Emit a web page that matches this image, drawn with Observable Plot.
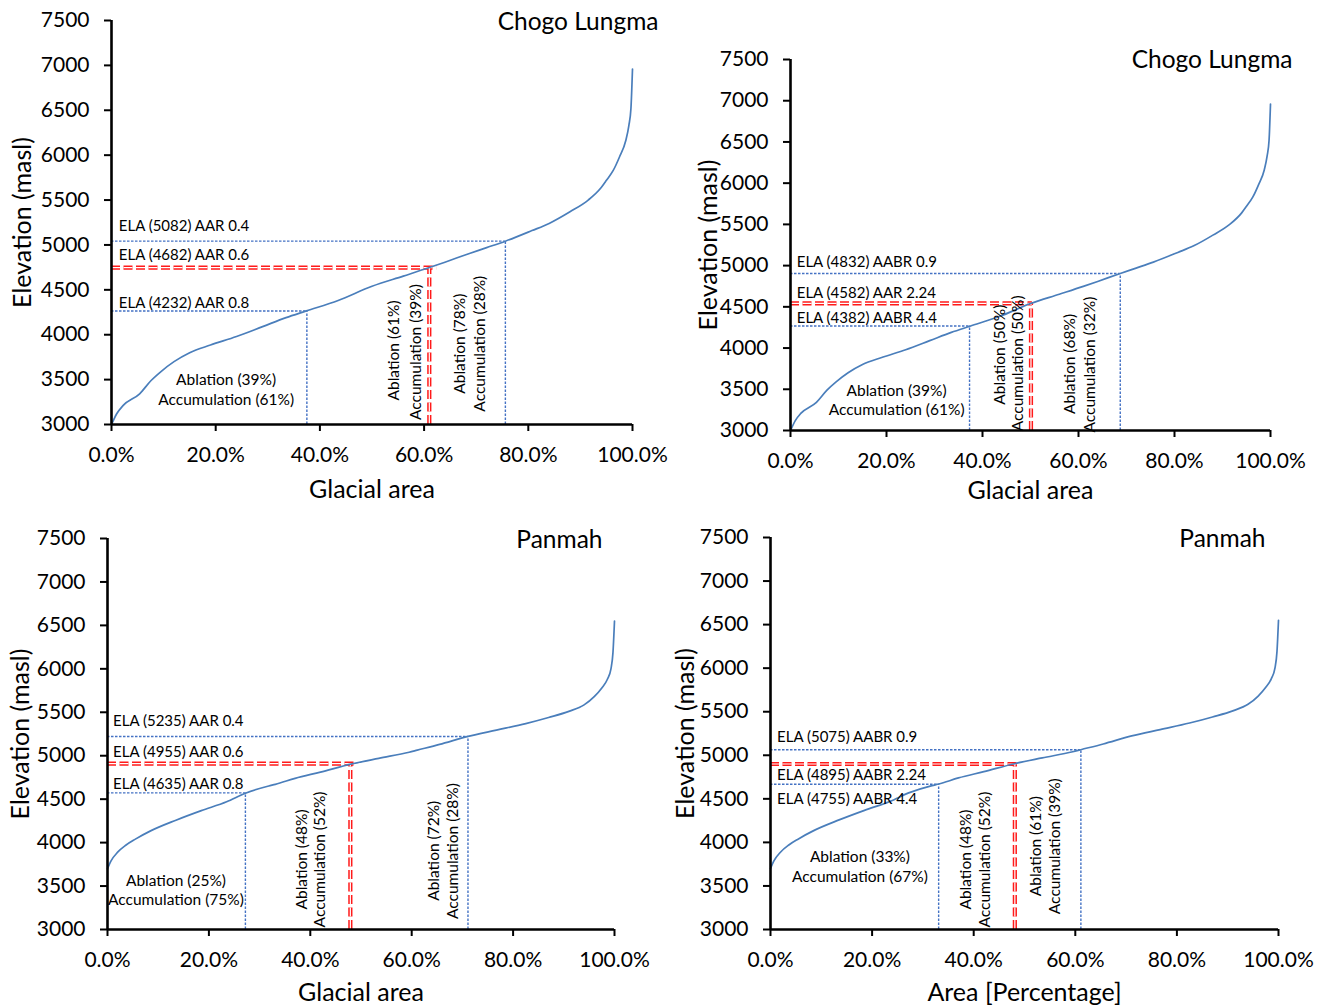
<!DOCTYPE html>
<html>
<head>
<meta charset="utf-8">
<script src="https://cdn.jsdelivr.net/npm/d3@7"></script>
<script src="https://cdn.jsdelivr.net/npm/@observablehq/plot@0.6"></script>
<style>
  html, body { margin: 0; padding: 0; background: white; }
  #wrap { position: relative; width: 1325px; height: 1007px; overflow: hidden; background: white; }
  #wrap > svg { position: absolute; }
</style>
</head>
<body>
<div id="wrap"></div>
<script>
// ---------- DATA ----------
const yTicks = [3000, 3500, 4000, 4500, 5000, 5500, 6000, 6500, 7000, 7500];
const xTicks = [0, 20, 40, 60, 80, 100];

// Hypsometric curve, Chogo Lungma (cumulative glacial area %, elevation m)
const chogoArea = [0, 1, 2.2, 5.4, 7.6, 9.5, 12, 15, 19, 24, 29, 33.5, 37.4, 43.5, 50, 56, 61, 64, 68.7, 72, 75.6, 80.7, 84, 88, 91.5, 94, 95, 96.3, 97.5, 98.7, 99.3, 99.7, 100];
const chogoElev = [3000, 3120, 3210, 3342, 3490, 3590, 3700, 3800, 3885, 3980, 4090, 4190, 4265, 4382, 4540, 4653, 4748, 4808, 4905, 4970, 5042, 5160, 5240, 5370, 5500, 5640, 5720, 5830, 5980, 6160, 6330, 6520, 6960];

// Hypsometric curve, Panmah
const panmahArea = [0, 0.7, 2, 3.6, 5.5, 8.5, 13.5, 18.5, 23.5, 27.2, 31.8, 33.1, 37, 42, 48, 53.5, 59.5, 61.1, 65.5, 71.1, 76.7, 82.5, 87, 91, 94, 96, 97.5, 98.6, 99.3, 99.7, 100];
const panmahElev = [3700, 3790, 3890, 3970, 4040, 4135, 4258, 4368, 4470, 4568, 4652, 4670, 4740, 4812, 4903, 4970, 5040, 5064, 5130, 5222, 5295, 5370, 5440, 5510, 5585, 5680, 5780, 5880, 6000, 6190, 6550];

// ELA guide lines (blue dotted: area %, elevation), red = preferred ELA
const p1BlueArea = [75.6, 37.5], p1BlueElev = [5042, 4265];
const p1RedArea = 61.0, p1RedElev = 4748, p1RedEnd = 62.4;
const p2BlueArea = [68.7, 37.3], p2BlueElev = [4905, 4267];
const p2RedArea = 50.1, p2RedElev = 4542, p2RedEnd = 50.4;
const p3BlueArea = [71.1, 27.2], p3BlueElev = [5222, 4572];
const p3RedArea = 47.9, p3RedElev = 4909, p3RedEnd = 48.9;
const p4BlueArea = [61.1, 33.1], p4BlueElev = [5064, 4668];
const p4RedArea = 48.1, p4RedElev = 4900, p4RedEnd = 49.2;

// ELA labels (text, anchor elevation)
const p1ElaText = ["ELA (5082) AAR 0.4", "ELA (4682) AAR 0.6", "ELA (4232) AAR 0.8"];
const p1ElaY = [5209, 4885, 4354];
const p2ElaText = ["ELA (4832) AABR 0.9", "ELA (4582) AAR 2.24", "ELA (4382) AABR 4.4"];
const p2ElaY = [5038, 4667, 4360];
const p3ElaText = ["ELA (5235) AAR 0.4", "ELA (4955) AAR 0.6", "ELA (4635) AAR 0.8"];
const p3ElaY = [5400, 5035, 4667];
const p4ElaText = ["ELA (5075) AABR 0.9", "ELA (4895) AABR 2.24", "ELA (4755) AABR 4.4"];
const p4ElaY = [5209, 4770, 4491];

// Zone labels: horizontal pair (x, y1, y2) and rotated labels (text, x, y)
const p1Zone = {text: ["Ablation (39%)", "Accumulation (61%)"], x: 22, y: [3490, 3268]};
const p1Rot = {text: ["Ablation (61%)", "Accumulation (39%)", "Ablation (78%)", "Accumulation (28%)"], x: [54.3, 58.4, 66.9, 70.7], y: [3825, 3807, 3900, 3900]};
const p2Zone = {text: ["Ablation (39%)", "Accumulation (61%)"], x: 22.1, y: [3484, 3254]};
const p2Rot = {text: ["Ablation (50%)", "Accumulation (50%)", "Ablation (68%)", "Accumulation (32%)"], x: [43.7, 47.5, 58.3, 62.3], y: [3920, 3815, 3807, 3799]};
const p3Zone = {text: ["Ablation (25%)", "Accumulation (75%)"], x: 13.5, y: [3557, 3334]};
const p3Rot = {text: ["Ablation (48%)", "Accumulation (52%)", "Ablation (72%)", "Accumulation (28%)"], x: [38.3, 42, 64.5, 68.2], y: [3806, 3806, 3906, 3902]};
const p4Zone = {text: ["Ablation (33%)", "Accumulation (67%)"], x: 17.6, y: [3830, 3604]};
const p4Rot = {text: ["Ablation (48%)", "Accumulation (52%)", "Ablation (61%)", "Accumulation (39%)"], x: [38.5, 42.3, 52.3, 56.1], y: [3803, 3803, 3956, 3956]};

// ---------- DRAWING ----------
const FONT = "Lato, 'Open Sans', 'DejaVu Sans', sans-serif";
const CURVE = "#4a7ebb", GUIDE = "#4472c4", RED = "#ff1a1a";

function panel(cfg) {
  const curve = cfg.area.map((a, i) => ({a, e: cfg.elev[i]}));
  const blue = cfg.blueArea.map((a, i) => ({a, e: cfg.blueElev[i]}));
  const red = [{a: cfg.redArea, e: cfg.redElev, end: cfg.redEnd}];
  const ela = cfg.elaText.map((t, i) => ({t, y: cfg.elaY[i]}));
  const zone = cfg.zone.text.map((t, i) => ({t, x: cfg.zone.x, y: cfg.zone.y[i]}));
  const rot = cfg.rot.text.map((t, i) => ({t, x: cfg.rot.x[i], y: cfg.rot.y[i]}));
  const redDash = "9,3.5";
  const svg = Plot.plot({
    width: cfg.width, height: cfg.height,
    marginLeft: cfg.ml, marginRight: cfg.mr, marginTop: cfg.mt, marginBottom: cfg.mb,
    style: {fontFamily: FONT, background: "transparent", color: "black", overflow: "visible"},
    x: {domain: [0, 100]},
    y: {domain: [3000, 7500]},
    marks: [
      // guide lines
      Plot.ruleY(blue, {y: "e", x1: () => 0, x2: "a", stroke: GUIDE, strokeWidth: 1.4, strokeDasharray: "2.5,1.5"}),
      Plot.ruleX(blue, {x: "a", y1: () => 3000, y2: "e", stroke: GUIDE, strokeWidth: 1.4, strokeDasharray: "2.5,1.5"}),
      Plot.ruleY(red, {y: "e", x1: () => 0, x2: "end", stroke: RED, strokeWidth: 4.2, strokeDasharray: redDash}),
      Plot.ruleX(red, {x: "a", y1: () => 3000, y2: "e", stroke: RED, strokeWidth: 4.2, strokeDasharray: redDash}),
      Plot.ruleY(red, {y: "e", x1: () => 0, x2: "end", stroke: "white", strokeWidth: 1.2, strokeDasharray: redDash}),
      Plot.ruleX(red, {x: "a", y1: () => 3000, y2: "e", stroke: "white", strokeWidth: 1.2, strokeDasharray: redDash}),
      // hypsometric curve
      Plot.line(curve, {x: "a", y: "e", stroke: CURVE, strokeWidth: 1.7, curve: "monotone-x"}),
      // axes
      Plot.ruleX([0], {stroke: "black", strokeWidth: 2.6}),
      Plot.ruleY([3000], {stroke: "black", strokeWidth: 2.6}),
      Plot.axisY({ticks: yTicks, tickSize: 7, tickPadding: 15, fontSize: 21, strokeWidth: 2, label: null, tickFormat: d => String(d)}),
      Plot.axisX({ticks: xTicks, tickSize: 7, tickPadding: 16, fontSize: 21, strokeWidth: 2, label: null, tickFormat: d => d.toFixed(1) + "%"}),
      // annotations
      Plot.text(ela, {x: () => cfg.elaX, y: "y", text: "t", textAnchor: "start", fontSize: 15, fill: "#000"}),
      Plot.text(zone, {x: "x", y: "y", text: "t", textAnchor: "middle", fontSize: 15.5, fill: "#000"}),
      Plot.text(rot, {x: "x", y: "y", text: "t", rotate: -90, textAnchor: "middle", fontSize: 15.5, fill: "#000"}),
      // titles / axis labels
      Plot.text([cfg.title], {frameAnchor: "top-right", text: d => d, textAnchor: "end", lineAnchor: "middle", dx: cfg.tdx, dy: cfg.tdy, fontSize: 24.5, fill: "black"}),
      Plot.text([cfg.xLabel], {frameAnchor: "bottom", text: d => d, lineAnchor: "middle", dy: cfg.xldy, fontSize: 25, fill: "black"}),
      Plot.text(["Elevation (masl)"], {frameAnchor: "left", text: d => d, rotate: -90, lineAnchor: "middle", textAnchor: "middle", dx: cfg.yldx, fontSize: 25, fill: "black"})
    ]
  });
  svg.style.left = cfg.left + "px";
  svg.style.top = cfg.top + "px";
  return svg;
}

const wrap = document.getElementById("wrap");
wrap.appendChild(panel({
  left: 0, top: 0, width: 660, height: 505, ml: 111, mr: 28, mt: 20, mb: 81,
  area: chogoArea, elev: chogoElev,
  blueArea: p1BlueArea, blueElev: p1BlueElev, redArea: p1RedArea, redElev: p1RedElev, redEnd: p1RedEnd,
  elaText: p1ElaText, elaY: p1ElaY, elaX: 1.4, zone: p1Zone, rot: p1Rot,
  title: "Chogo Lungma", tdx: 26, tdy: 2, xLabel: "Glacial area", xldy: 65, yldx: -89
}));
wrap.appendChild(panel({
  left: 660, top: 0, width: 665, height: 505, ml: 130, mr: 55, mt: 59, mb: 75,
  area: chogoArea, elev: chogoElev,
  blueArea: p2BlueArea, blueElev: p2BlueElev, redArea: p2RedArea, redElev: p2RedElev, redEnd: p2RedEnd,
  elaText: p2ElaText, elaY: p2ElaY, elaX: 1.3, zone: p2Zone, rot: p2Rot,
  title: "Chogo Lungma", tdx: 22, tdy: 1, xLabel: "Glacial area", xldy: 60, yldx: -82
}));
wrap.appendChild(panel({
  left: 0, top: 505, width: 660, height: 502, ml: 107, mr: 46, mt: 33, mb: 78,
  area: panmahArea, elev: panmahElev,
  blueArea: p3BlueArea, blueElev: p3BlueElev, redArea: p3RedArea, redElev: p3RedElev, redEnd: p3RedEnd,
  elaText: p3ElaText, elaY: p3ElaY, elaX: 1.1, zone: p3Zone, rot: p3Rot,
  title: "Panmah", tdx: -12, tdy: 2, xLabel: "Glacial area", xldy: 63, yldx: -87
}));
wrap.appendChild(panel({
  left: 660, top: 505, width: 665, height: 502, ml: 110, mr: 47, mt: 32, mb: 78,
  area: panmahArea, elev: panmahElev,
  blueArea: p4BlueArea, blueElev: p4BlueElev, redArea: p4RedArea, redElev: p4RedElev, redEnd: p4RedEnd,
  elaText: p4ElaText, elaY: p4ElaY, elaX: 1.3, zone: p4Zone, rot: p4Rot,
  title: "Panmah", tdx: -13, tdy: 2, xLabel: "Area [Percentage]", xldy: 63, yldx: -85
}));
</script>
</body>
</html>
